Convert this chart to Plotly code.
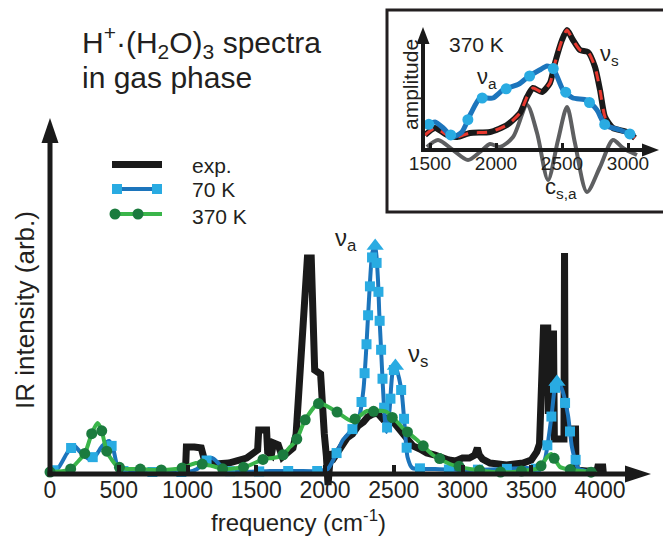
import numpy as np
import plotly.graph_objects as go

W, H = 663, 537
FONT = "Liberation Sans, Arial, sans-serif"

# ---------------- data ----------------
# main panel: frequency in cm-1, IR intensity in arbitrary units
exp_freq = [985, 992, 1050, 1100, 1125, 1200, 1300, 1380, 1430, 1480, 1510, 1518, 1575, 1583,
            1610, 1625, 1660, 1690, 1730, 1767, 1790, 1815, 1840, 1872, 1900, 1912, 1925,
            1968, 1978, 1995, 2010, 2022, 2034, 2045, 2070, 2100, 2130, 2160, 2200, 2240,
            2280, 2310, 2350, 2380, 2420, 2450, 2480, 2520, 2550, 2590, 2640, 2690, 2740,
            2800, 2850, 2900, 2950, 3000, 3050, 3090, 3108, 3122, 3145, 3200, 3260, 3320,
            3380, 3440, 3500, 3540, 3560, 3589, 3620, 3624, 3628, 3662, 3668, 3738, 3742,
            3746, 3822, 3826, 3900, 3978, 3984, 4020, 4024]
exp_int = [2, 27, 27, 26, 13, 10, 11, 13, 16, 21, 24, 44, 44, 22,
           19, 31, 29, 17, 21, 26, 40, 90, 160, 216, 216, 180, 104,
           100, 72, 40, 18, -11, 10, 22, 17, 24, 30, 36, 40, 48,
           52, 57, 60, 61, 55, 56, 55, 48, 42, 34, 28, 25, 21,
           19, 16, 14, 13, 16, 16, 19, 26, 19, 15, 11, 10, 9,
           10, 11, 14, 22, 30, 146, 146, 60, 140, 140, 35, 35, 221,
           45, 45, 4, 3, 3, 7, 7, 1]

k70_freq = [0, 60, 120, 170, 220, 280, 330, 380, 430, 460, 490, 530, 600, 800, 1000, 1070,
            1130, 1180, 1230, 1290, 1400, 1600, 1800, 1950, 2020, 2060, 2130, 2200, 2250,
            2280, 2300, 2320, 2345, 2365, 2385, 2395, 2407, 2420, 2435, 2447, 2470, 2490,
            2512, 2540, 2560, 2580, 2600, 2635, 2800, 3000, 3300, 3470, 3560, 3600, 3625,
            3650, 3670, 3687, 3720, 3767, 3796, 3840, 3900, 3950]
k70_int = [2, 6, 20, 29, 22, 15, 18, 28, 33, 25, 8, 3, 2, 2, 2, 5,
           13, 16, 10, 3, 2, 3, 3, 3, 5, 14, 34, 45, 58,
           85, 125, 175, 222, 228, 195, 160, 127, 90, 55, 42, 65, 100,
           108, 95, 79, 47, 17, 6, 5, 4, 5, 6, 5, 15, 35,
           61, 85, 92, 86, 59, 27, 6, 3, 2]

k370_freq = [0, 100, 150, 200, 255, 305, 345, 375, 414, 494, 560, 647, 807, 960, 1062, 1105,
             1180, 1260, 1418, 1556, 1620, 1687, 1745, 1789, 1855, 1956, 2087, 2196, 2305,
             2450, 2565, 2670, 2785, 2909, 3054, 3222, 3367, 3490, 3560, 3615, 3645, 3709,
             3796, 3869, 3978]
k370_int = [2, 3, 5, 12, 21, 41, 51, 44, 22, 7, 5, 5, 4, 6, 11, 10,
            8, 5, 7, 15, 16, 18, 27, 33, 54, 71, 62, 53, 63,
            62, 46, 34, 19, 10, 5, 2, 2, 4, 6, 17, 20, 7,
            4, 3, 1]

main_ticks = [0, 500, 1000, 1500, 2000, 2500, 3000, 3500, 4000]
legend_names = ["exp.", "70 K", "370 K"]

# inset (370 K): amplitude in arbitrary units
va_freq = [1477, 1538, 1600, 1674, 1742, 1811, 1879, 1977, 2053, 2174, 2242, 2330, 2386,
           2432, 2508, 2583, 2689, 2765, 2826, 2939, 3053]
va_amp = [25, 28, 22, 13, 18, 37, 52, 52, 60, 66, 73, 80, 84,
          82, 60, 52, 50, 40, 25, 20, 14]
vs_freq = [1462, 1538, 1629, 1705, 1803, 1955, 2083, 2182, 2235, 2280, 2348, 2409, 2447,
           2500, 2538, 2583, 2636, 2697, 2750, 2788, 2826, 2886, 2992, 3053]
vs_amp = [15, 22, 15, 13, 17, 18, 25, 37, 53, 62, 58, 67, 87,
          110, 120, 110, 100, 98, 83, 60, 33, 22, 18, 12]
csa_freq = [1477, 1561, 1674, 1788, 1879, 1955, 2030, 2129, 2235, 2311, 2394, 2470, 2538,
            2598, 2689, 2788, 2886, 2962, 3068]
csa_amp = [3, 10, 0, -10, -2, 6, 3, 13, 45, 17, -30, 10, 43,
           7, -42, -17, 10, 2, -5]
inset_ticks = [1500, 2000, 2500, 3000]

# ---------------- geometry helpers ----------------
KX, X0 = 0.1375, 50          # main: px per cm-1, px of 0 cm-1
BASE = 474                   # main baseline pixel row
KX2, X02 = 0.132, 430        # inset: px per cm-1, px of 1500 cm-1
BASE2 = 150


def px(x):
    return x / W


def py(y):
    return 1 - y / H


def along(fx, hy, kx, spacing, offset):
    fx = np.asarray(fx, float)
    hy = np.asarray(hy, float)
    seg = np.hypot(np.diff(fx) * kx, np.diff(hy))
    s = np.concatenate([[0.0], np.cumsum(seg)])
    t = np.arange(offset, s[-1] + 1e-9, spacing)
    return np.interp(t, s, fx), np.interp(t, s, hy)


def peaks(fx, hy, minh):
    i = [k for k in range(1, len(hy) - 1)
         if hy[k] >= hy[k - 1] and hy[k] > hy[k + 1] and hy[k] > minh]
    return [fx[k] for k in i], [hy[k] for k in i]


def tri(tip, direction, length, half):
    x, y = tip
    if direction == "up":
        pts = [(x, y), (x - half, y + length), (x + half, y + length)]
    else:
        pts = [(x, y), (x - length, y - half), (x - length, y + half)]
    return "M " + " L ".join(f"{px(a):.5f},{py(b):.5f}" for a, b in pts) + " Z"


BLUE_LINE = "#1c75bc"
BLUE_MARK = "#29abe2"
GREEN_LINE = "#3ab54a"
GREEN_MARK = "#1b7b3e"
BLACK = "#1a1a1a"
TEXT = "#231f20"

fig = go.Figure()

# ---------------- main panel ----------------
fig.add_trace(go.Scatter(x=exp_freq, y=exp_int, mode="lines", name=legend_names[0],
                         line=dict(color=BLACK, width=7), hoverinfo="skip"))

fig.add_trace(go.Scatter(x=k70_freq, y=k70_int, mode="lines", name=legend_names[1],
                         line=dict(color=BLUE_LINE, width=4, shape="spline", smoothing=0.6),
                         hoverinfo="skip"))
mx, my = along(k70_freq, k70_int, KX, 29, 4)
fig.add_trace(go.Scatter(x=mx, y=my, mode="markers",
                         marker=dict(symbol="square", size=10, color=BLUE_MARK),
                         hoverinfo="skip"))
pkx, pky = peaks(k70_freq, k70_int, 80)
fig.add_trace(go.Scatter(x=pkx, y=pky, mode="markers",
                         marker=dict(symbol="triangle-up", size=15, color=BLUE_MARK),
                         hoverinfo="skip"))

fig.add_trace(go.Scatter(x=k370_freq, y=k370_int, mode="lines", name=legend_names[2],
                         line=dict(color=GREEN_LINE, width=4, shape="spline", smoothing=0.6),
                         hoverinfo="skip"))
gx, gy = along(k370_freq, k370_int, KX, 21, 0)
fig.add_trace(go.Scatter(x=gx, y=gy, mode="markers",
                         marker=dict(symbol="circle", size=11, color=GREEN_MARK),
                         hoverinfo="skip"))

# ---------------- inset ----------------
fig.add_trace(go.Scatter(x=csa_freq, y=csa_amp, mode="lines", xaxis="x2", yaxis="y2",
                         line=dict(color="#5e5f61", width=4, shape="spline", smoothing=0.8),
                         hoverinfo="skip"))
fig.add_trace(go.Scatter(x=vs_freq, y=vs_amp, mode="lines", xaxis="x2", yaxis="y2",
                         line=dict(color=BLACK, width=6, shape="spline", smoothing=0.6),
                         hoverinfo="skip"))
fig.add_trace(go.Scatter(x=vs_freq, y=vs_amp, mode="lines", xaxis="x2", yaxis="y2",
                         line=dict(color="#e8392f", width=3, shape="spline", smoothing=0.6,
                                   dash="10px,9px"),
                         hoverinfo="skip"))
fig.add_trace(go.Scatter(x=va_freq, y=va_amp, mode="lines", xaxis="x2", yaxis="y2",
                         line=dict(color=BLUE_LINE, width=5, shape="spline", smoothing=0.6),
                         hoverinfo="skip"))
ix, iy = along(va_freq, va_amp, KX2, 27, 2)
fig.add_trace(go.Scatter(x=ix, y=iy, mode="markers", xaxis="x2", yaxis="y2",
                         marker=dict(symbol="circle", size=11, color=BLUE_MARK),
                         hoverinfo="skip"))


# ---------------- decorations ----------------
def pline(x0, y0, x1, y1, color, width):
    return dict(type="line", xref="paper", yref="paper", x0=px(x0), y0=py(y0),
                x1=px(x1), y1=py(y1), line=dict(color=color, width=width))


def pbox(cx, cy, half, color, kind="rect"):
    return dict(type=kind, xref="paper", yref="paper", x0=px(cx - half), y0=py(cy + half),
                x1=px(cx + half), y1=py(cy - half), fillcolor=color, line=dict(width=0))


shapes = [
    # main axes
    pline(X0, BASE + 2.5, X0, 138, BLACK, 5),
    pline(X0 - 2.5, BASE, 630, BASE, BLACK, 5),
    dict(type="path", xref="paper", yref="paper", path=tri((X0, 118), "up", 25, 8.5),
         fillcolor=BLACK, line=dict(width=0)),
    dict(type="path", xref="paper", yref="paper", path=tri((651, BASE), "right", 26, 8.5),
         fillcolor=BLACK, line=dict(width=0)),
    # legend glyphs
    pline(112, 164.5, 162, 164.5, BLACK, 7),
    pline(117, 189, 157, 189, BLUE_LINE, 4),
    pbox(117, 189, 5, BLUE_MARK), pbox(157, 189, 5, BLUE_MARK),
    pline(115, 214, 162, 214, GREEN_LINE, 4),
    pbox(115, 214, 5.5, GREEN_MARK, "circle"), pbox(138, 214, 5.5, GREEN_MARK, "circle"),
    # inset frame
    dict(type="rect", xref="paper", yref="paper", x0=px(387), y0=py(212), x1=px(666), y1=py(10),
         line=dict(color=TEXT, width=3), fillcolor="rgba(0,0,0,0)"),
    # inset axes
    pline(423, BASE2 + 2, 423, 40, BLACK, 4),
    pline(421, BASE2, 645, BASE2, BLACK, 4),
    dict(type="path", xref="paper", yref="paper", path=tri((423, 27), "up", 17, 6.5),
         fillcolor=BLACK, line=dict(width=0)),
    dict(type="path", xref="paper", yref="paper", path=tri((659, BASE2), "right", 17, 6.5),
         fillcolor=BLACK, line=dict(width=0)),
]


def ann(text, x, y, size, angle=0, xanchor="center", yanchor="middle"):
    return dict(text=text, x=px(x), y=py(y), xref="paper", yref="paper", showarrow=False,
                font=dict(family=FONT, size=size, color=TEXT), textangle=angle,
                xanchor=xanchor, yanchor=yanchor)


annotations = [
    ann("H<sup>+</sup>·(H<sub>2</sub>O)<sub>3</sub> spectra", 80, 42, 30, xanchor="left"),
    ann("in gas phase", 80, 78, 30, xanchor="left"),
    ann("IR intensity (arb.)", 25, 310, 26, angle=-90),
    ann("frequency (cm<sup>-1</sup>)", 298, 521, 24),
    ann("ν<sub>a</sub>", 346, 240, 24),
    ann("ν<sub>s</sub>", 418, 355, 24),
    ann(legend_names[0], 190, 165, 21, xanchor="left"),
    ann(legend_names[1], 190, 190, 21, xanchor="left"),
    ann(legend_names[2], 190, 216, 21, xanchor="left"),
    ann("370 K", 476, 45, 21),
    ann("ν<sub>a</sub>", 487, 78, 22),
    ann("ν<sub>s</sub>", 609, 55, 22),
    ann("c<sub>s,a</sub>", 561, 188, 22),
    ann("amplitude", 410, 85, 21, angle=-90),
]

fig.update_layout(
    width=W, height=H,
    margin=dict(l=0, r=0, t=0, b=0),
    paper_bgcolor="white", plot_bgcolor="rgba(0,0,0,0)",
    font=dict(family=FONT, color=TEXT),
    showlegend=False,
    xaxis=dict(domain=[0, 1], range=[-X0 / KX, (W - X0) / KX], anchor="free",
               position=py(BASE), showgrid=False, zeroline=False, showline=False,
               tickmode="array", tickvals=main_ticks, ticks="inside", ticklen=9,
               tickwidth=4, tickcolor=BLACK, automargin=False,
               tickfont=dict(family=FONT, size=23, color=TEXT)),
    yaxis=dict(domain=[0, 1], range=[BASE - H, BASE], visible=False, automargin=False),
    xaxis2=dict(domain=[px(420), px(655)],
                range=[1500 + (420 - X02) / KX2, 1500 + (655 - X02) / KX2],
                anchor="free", position=py(BASE2), showgrid=False, zeroline=False,
                showline=False, tickmode="array", tickvals=inset_ticks, ticks="inside",
                ticklen=7, tickwidth=3, tickcolor=BLACK, automargin=False,
                tickfont=dict(family=FONT, size=19, color=TEXT)),
    yaxis2=dict(domain=[py(205), py(20)], range=[BASE2 - 205, BASE2 - 20], anchor="x2",
                visible=False, automargin=False),
    shapes=shapes,
    annotations=annotations,
)

fig.write_html("out.html", config={"displayModeBar": False},
               post_script="document.body.style.margin='0px';")
